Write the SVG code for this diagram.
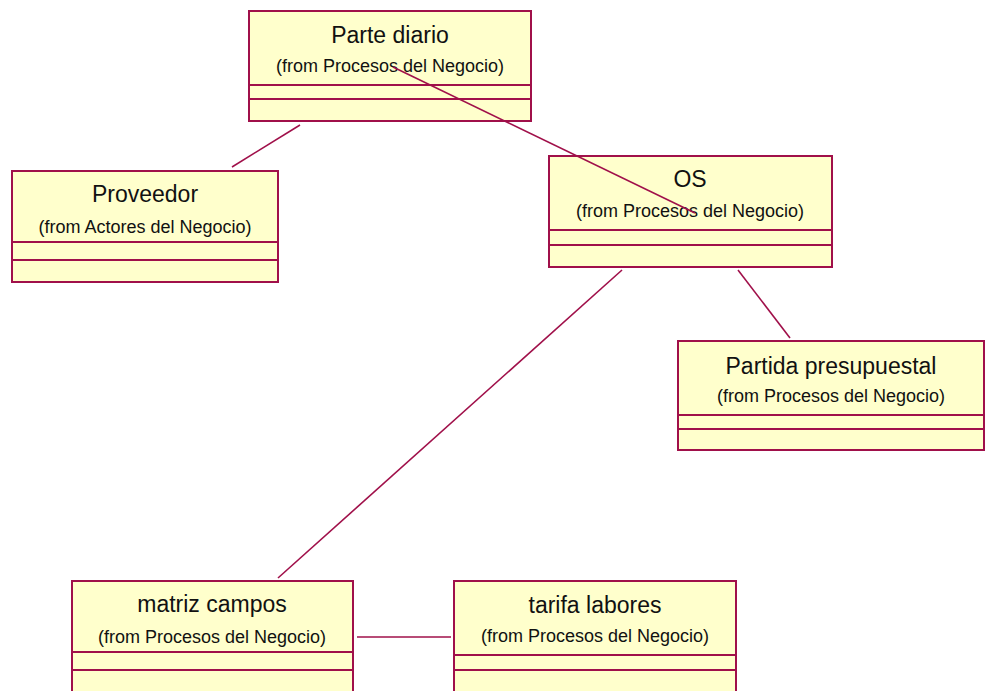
<svg xmlns="http://www.w3.org/2000/svg" width="986" height="691" viewBox="0 0 986 691">
  <style>
    .box { fill: #ffffcc; stroke: #a0104a; stroke-width: 2; }
    .sep { stroke: #a0104a; stroke-width: 2; }
    .edge { stroke: #a0104a; stroke-width: 1.6; fill: none; }
    .title { font-family: "Liberation Sans", Arial, sans-serif; font-size: 23px; fill: #111; text-anchor: middle; }
    .from { font-family: "Liberation Sans", Arial, sans-serif; font-size: 18px; fill: #111; text-anchor: middle; }
  </style>
  <rect width="986" height="691" fill="#ffffff"/>

  <!-- associations -->
  <g id="connectors">
    <line class="edge" x1="300" y1="125" x2="232" y2="167"/>
    <line class="edge" x1="622" y1="270" x2="278" y2="578"/>
    <line class="edge" x1="738" y1="270" x2="790" y2="338"/>
    <line class="edge" x1="357" y1="637" x2="451" y2="637"/>
  </g>

  <g id="parte-diario">
    <rect class="box" x="249" y="11" width="282" height="110"/>
    <line class="sep" x1="249" y1="85" x2="531" y2="85"/>
    <line class="sep" x1="249" y1="99" x2="531" y2="99"/>
    <text class="title" x="390" y="43">Parte diario</text>
    <text class="from" x="390" y="72">(from Procesos del Negocio)</text>
  </g>

  <g id="proveedor">
    <rect class="box" x="12" y="171" width="266" height="111"/>
    <line class="sep" x1="12" y1="242" x2="278" y2="242"/>
    <line class="sep" x1="12" y1="260" x2="278" y2="260"/>
    <text class="title" x="145" y="202">Proveedor</text>
    <text class="from" x="145" y="233">(from Actores del Negocio)</text>
  </g>

  <g id="os">
    <rect class="box" x="549" y="156" width="283" height="111"/>
    <line class="sep" x1="549" y1="230" x2="832" y2="230"/>
    <line class="sep" x1="549" y1="245" x2="832" y2="245"/>
    <text class="title" x="690" y="187">OS</text>
    <text class="from" x="690" y="217">(from Procesos del Negocio)</text>
  </g>

  <g id="partida-presupuestal">
    <rect class="box" x="678" y="341" width="306" height="109"/>
    <line class="sep" x1="678" y1="415" x2="984" y2="415"/>
    <line class="sep" x1="678" y1="429" x2="984" y2="429"/>
    <text class="title" x="831" y="374">Partida presupuestal</text>
    <text class="from" x="831" y="402">(from Procesos del Negocio)</text>
  </g>

  <g id="matriz-campos">
    <rect class="box" x="72" y="581" width="281" height="120"/>
    <line class="sep" x1="72" y1="652" x2="353" y2="652"/>
    <line class="sep" x1="72" y1="670" x2="353" y2="670"/>
    <text class="title" x="212" y="612">matriz campos</text>
    <text class="from" x="212" y="643">(from Procesos del Negocio)</text>
  </g>

  <g id="tarifa-labores">
    <rect class="box" x="454" y="581" width="282" height="120"/>
    <line class="sep" x1="454" y1="655" x2="736" y2="655"/>
    <line class="sep" x1="454" y1="670" x2="736" y2="670"/>
    <text class="title" x="595" y="613">tarifa labores</text>
    <text class="from" x="595" y="642">(from Procesos del Negocio)</text>
  </g>

  <!-- association drawn over the class boxes -->
  <g id="connectors-front">
    <line class="edge" x1="393" y1="67" x2="695" y2="213"/>
  </g>
</svg>
